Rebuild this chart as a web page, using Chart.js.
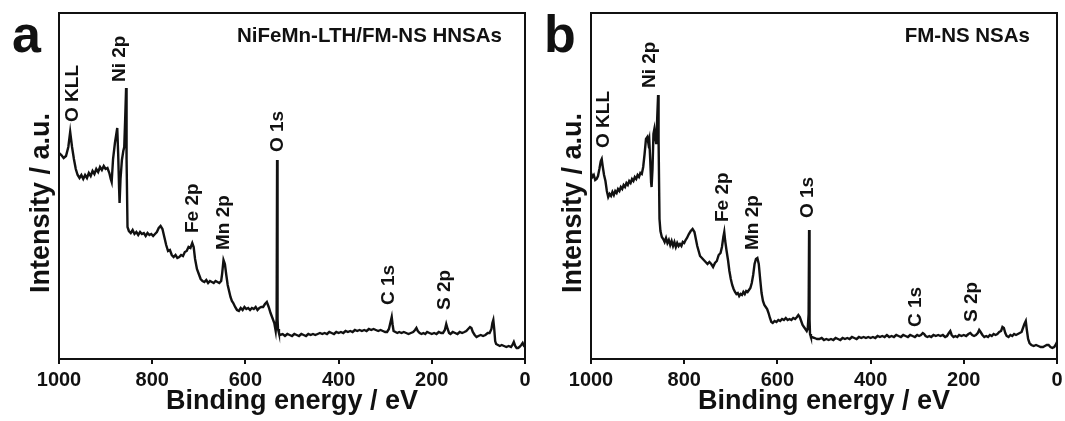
<!DOCTYPE html>
<html>
<head>
<meta charset="utf-8">
<title>XPS survey</title>
<script src="https://cdn.jsdelivr.net/npm/chart.js@4"></script>
<style>
  body { margin: 0; background: #fff; overflow: hidden; }
  #figura { position: relative; width: 1065px; height: 421px; }
  #figura canvas { position: absolute; top: 0; }
</style>
</head>
<body>
<div id="figura"></div>
<script>
// Espectro (a): NiFeMn-LTH/FM-NS HNSAs
const energiasA = [1000, 995, 990, 985, 980, 976, 972, 968, 964, 960, 956, 952, 948, 944, 940, 936, 932, 928, 924, 920,
  916, 912, 908, 904, 900, 896, 892, 889, 887, 884, 880, 877, 875, 873, 871, 870, 868, 865, 862, 860,
  858, 856, 855, 853, 850, 846, 842, 838, 834, 830, 826, 822, 818, 814, 810, 806, 802, 798, 794, 790,
  786, 782, 778, 774, 770, 766, 762, 758, 754, 750, 746, 742, 738, 734, 730, 726, 722, 718, 714, 711,
  708, 704, 700, 696, 692, 688, 684, 680, 676, 672, 668, 664, 660, 656, 652, 650, 647, 644, 641, 638,
  635, 632, 629, 626, 622, 618, 614, 610, 606, 602, 598, 594, 590, 586, 582, 578, 574, 570, 566, 562,
  558, 554, 550, 546, 542, 538, 535, 533, 532, 531, 530, 528, 526, 520, 515, 510, 505, 500, 495, 490,
  485, 480, 475, 470, 465, 460, 455, 450, 445, 440, 435, 430, 425, 420, 415, 410, 405, 400, 395, 390,
  385, 380, 375, 370, 365, 360, 355, 350, 345, 340, 335, 330, 325, 320, 315, 310, 305, 300, 296, 292,
  289, 286, 284, 282, 278, 274, 270, 265, 260, 255, 250, 245, 240, 236, 233, 230, 226, 222, 218, 214,
  210, 205, 200, 195, 190, 185, 180, 176, 172, 169, 166, 163, 160, 155, 150, 145, 140, 135, 130, 126,
  122, 118, 115, 112, 108, 104, 100, 95, 90, 85, 80, 76, 72, 70, 68, 66, 64, 62, 58, 54,
  50, 45, 40, 35, 30, 27, 24, 21, 18, 15, 12, 8, 5, 2, 0];
const intensidadesA = [206, 204, 201, 203, 212, 227, 212, 200, 190, 184, 181, 184, 180, 184, 181, 186, 183, 188, 185, 190,
  187, 192, 189, 193, 190, 191, 186, 180, 177, 200, 216, 225, 231, 205, 170, 156, 180, 199, 208, 212,
  240, 271, 200, 132, 128, 126, 129, 125, 127, 124, 127, 125, 126, 123, 126, 124, 125, 123, 125, 127,
  131, 133, 130, 122, 114, 108, 109, 104, 102, 104, 101, 102, 104, 103, 107, 108, 112, 111, 116, 112,
  100, 90, 85, 80, 78, 77, 79, 76, 78, 77, 76, 78, 77, 76, 78, 85, 99, 95, 84, 74,
  68, 62, 58, 56, 52, 49, 48, 51, 49, 52, 50, 51, 49, 51, 50, 52, 49, 51, 52, 52,
  55, 57, 52, 46, 41, 36, 28, 40, 199, 40, 30, 26, 24, 25, 23, 25, 24, 23, 25, 24,
  23, 25, 24, 23, 25, 24, 25, 24, 25, 26, 25, 26, 25, 27, 26, 25, 27, 26, 27, 26,
  28, 27, 28, 27, 29, 28, 29, 28, 29, 28, 30, 29, 30, 29, 28, 29, 28, 27, 27, 30,
  36, 42, 34, 28, 27, 26, 27, 26, 27, 26, 25, 26, 27, 29, 31, 28, 26, 25, 26, 25,
  27, 26, 25, 26, 25, 27, 26, 26, 29, 35, 30, 26, 25, 27, 26, 25, 27, 26, 27, 28,
  30, 32, 31, 27, 24, 22, 23, 24, 23, 24, 26, 26, 30, 36, 39, 30, 18, 15, 14, 13,
  14, 13, 12, 13, 12, 14, 17, 13, 11, 11, 12, 14, 16, 13, 12];

// Espectro (b): FM-NS NSAs
const energiasB = [1000, 997, 994, 991, 988, 985, 982, 979, 977, 975, 972, 969, 966, 963, 960, 957, 954, 951, 948, 945,
  942, 939, 936, 933, 930, 927, 924, 921, 918, 915, 912, 909, 906, 903, 900, 897, 894, 891, 888, 885,
  882, 879, 877, 875, 873, 871, 870, 868, 866, 864, 862, 860, 858, 856, 855, 853, 851, 848, 845, 842,
  839, 836, 833, 830, 827, 824, 821, 818, 815, 812, 809, 806, 803, 800, 797, 794, 790, 786, 782, 778,
  775, 772, 769, 766, 762, 758, 754, 750, 746, 742, 738, 734, 730, 726, 722, 719, 716, 714, 712, 709,
  706, 703, 700, 697, 694, 691, 688, 685, 682, 679, 676, 673, 670, 667, 664, 661, 658, 655, 652, 649,
  646, 643, 640, 637, 634, 631, 628, 625, 622, 619, 616, 613, 610, 606, 602, 598, 594, 590, 586, 582,
  578, 574, 570, 566, 562, 558, 555, 552, 549, 546, 543, 540, 537, 535, 533, 532, 531, 530, 528, 526,
  520, 515, 510, 505, 500, 495, 490, 485, 480, 475, 470, 465, 460, 455, 450, 445, 440, 435, 430, 425,
  420, 415, 410, 405, 400, 395, 390, 385, 380, 375, 370, 365, 360, 355, 350, 345, 340, 335, 330, 325,
  320, 315, 310, 305, 300, 296, 292, 288, 285, 282, 278, 274, 270, 265, 260, 255, 250, 245, 240, 236,
  232, 229, 226, 222, 218, 214, 210, 205, 200, 195, 190, 186, 182, 178, 174, 170, 167, 164, 160, 156,
  152, 148, 144, 140, 136, 132, 128, 124, 120, 117, 114, 111, 108, 104, 100, 96, 92, 88, 84, 80,
  76, 73, 70, 67, 65, 62, 59, 55, 50, 45, 40, 35, 30, 26, 22, 18, 14, 10, 6, 3,
  1, 0];
const intensidadesB = [186, 182, 184, 179, 180, 183, 190, 198, 200, 193, 184, 178, 168, 162, 165, 163, 167, 164, 168, 166,
  170, 168, 172, 170, 174, 172, 176, 174, 178, 176, 180, 178, 182, 180, 184, 182, 186, 185, 192, 205,
  220, 222, 216, 220, 200, 176, 172, 190, 225, 230, 222, 215, 240, 264, 220, 140, 128, 122, 120, 117,
  121, 116, 119, 114, 118, 113, 117, 112, 116, 113, 115, 113, 117, 116, 119, 121, 125, 128, 130, 127,
  120, 113, 108, 103, 101, 99, 97, 95, 97, 95, 92, 96, 98, 104, 106, 112, 122, 127, 118, 108,
  99, 88, 80, 74, 70, 67, 65, 66, 63, 65, 64, 67, 65, 68, 67, 69, 71, 76, 84, 95,
  100, 101, 95, 80, 66, 58, 54, 52, 50, 46, 41, 37, 36, 38, 37, 39, 38, 40, 39, 41,
  39, 40, 39, 41, 40, 42, 44, 42, 38, 34, 32, 30, 28, 30, 45, 129, 40, 25, 22, 22,
  21, 20, 20, 21, 19, 20, 19, 20, 19, 21, 20, 19, 21, 20, 21, 20, 22, 21, 20, 22,
  21, 22, 21, 22, 21, 22, 21, 23, 22, 23, 22, 24, 22, 23, 22, 24, 23, 22, 24, 23,
  22, 24, 23, 22, 24, 23, 24, 26, 25, 23, 22, 23, 22, 24, 23, 24, 23, 24, 22, 23,
  26, 28, 24, 22, 23, 22, 24, 23, 24, 23, 25, 26, 24, 23, 24, 26, 29, 27, 24, 22,
  23, 22, 24, 23, 25, 24, 25, 27, 28, 32, 31, 26, 23, 22, 24, 23, 25, 24, 25, 26,
  27, 31, 35, 38, 30, 20, 16, 14, 13, 14, 13, 12, 12, 13, 14, 14, 12, 11, 12, 14,
  16, 17];

// Etiquetas de los picos: energía y altura donde empieza el texto
const picos = ['O KLL', 'Ni 2p', 'Fe 2p', 'Mn 2p', 'O 1s', 'C 1s', 'S 2p'];
const picosEnergiaA = [970, 870, 712, 647, 530, 292, 173];
const picosAlturaA = [237, 277, 126, 109, 207, 54, 49];
const picosEnergiaB = [973, 873, 717, 652, 534, 303, 182];
const picosAlturaB = [211, 271, 137, 109, 141, 32, 37];

const ticksX = [0, 200, 400, 600, 800, 1000];

const FUENTE = '"Liberation Sans", Arial, sans-serif';
Chart.defaults.font.family = FUENTE;
Chart.defaults.color = '#111';

// marco, letra del panel, nombre de la muestra y etiquetas de los picos
const anotaciones = {
  id: 'anotaciones',
  afterDatasetsDraw(chart, args, opts) {
    const { ctx, chartArea: a, scales: { x, y } } = chart;
    ctx.save();
    ctx.strokeStyle = '#111';
    ctx.lineWidth = 2;
    ctx.strokeRect(a.left, a.top, a.right - a.left, a.bottom - a.top);

    ctx.fillStyle = '#111';
    ctx.font = 'bold 19px ' + FUENTE;
    ctx.textAlign = 'left';
    ctx.textBaseline = 'middle';
    opts.energias.forEach((e, i) => {
      ctx.save();
      ctx.translate(x.getPixelForValue(e), y.getPixelForValue(opts.alturas[i]));
      ctx.rotate(-Math.PI / 2);
      ctx.fillText(picos[i], 0, 0);
      ctx.restore();
    });

    ctx.font = 'bold 20.5px ' + FUENTE;
    ctx.textAlign = 'right';
    ctx.textBaseline = 'alphabetic';
    ctx.fillText(opts.muestra, opts.muestraX, 42);

    ctx.save();
    ctx.font = 'bold 27px ' + FUENTE;
    ctx.textAlign = 'center';
    ctx.textBaseline = 'middle';
    ctx.translate(42, 203);
    ctx.rotate(-Math.PI / 2);
    ctx.fillText('Intensity / a.u.', 0, 0);
    ctx.restore();

    ctx.font = 'bold 52px ' + FUENTE;
    ctx.textAlign = 'left';
    ctx.fillText(opts.letra, 12, 52);
    ctx.restore();
  }
};

function crearPanel(izquierda, ancho, letra, muestra, muestraX, energias, intensidades, picosE, picosH) {
  const canvas = document.createElement('canvas');
  canvas.width = ancho;
  canvas.height = 421;
  canvas.style.left = izquierda + 'px';
  document.getElementById('figura').appendChild(canvas);

  const puntos = energias.map((e, i) => ({ x: e, y: intensidades[i] }));

  return new Chart(canvas.getContext('2d'), {
    type: 'line',
    data: {
      datasets: [{
        data: puntos,
        borderColor: '#111',
        borderWidth: 2.4,
        pointRadius: 0,
        tension: 0
      }]
    },
    options: {
      responsive: false,
      animation: false,
      layout: { padding: { left: 59, right: ancho - 59 - 466, top: 13, bottom: 0 } },
      plugins: {
        legend: { display: false },
        tooltip: { enabled: false },
        anotaciones: { letra, muestra, muestraX, energias: picosE, alturas: picosH }
      },
      scales: {
        x: {
          type: 'linear',
          reverse: true,
          min: 0,
          max: 1000,
          afterFit(scale) {
            scale.height = 62;
            scale.paddingLeft = 0;
            scale.paddingRight = 0;
          },
          border: { display: false },
          grid: { drawOnChartArea: false, drawTicks: true, tickLength: 5, color: '#111', lineWidth: 2 },
          ticks: {
            stepSize: 100,
            padding: 4,
            maxRotation: 0,
            font: { size: 20, weight: 'bold' },
            callback: v => (ticksX.includes(v) ? String(v) : '')
          },
          title: {
            display: true,
            text: 'Binding energy / eV',
            font: { size: 27, weight: 'bold' },
            padding: { top: 0, bottom: 3 }
          }
        },
        y: { display: false, min: 0, max: 346 }
      }
    },
    plugins: [anotaciones]
  });
}

crearPanel(0, 532, 'a', 'NiFeMn-LTH/FM-NS HNSAs', 502, energiasA, intensidadesA, picosEnergiaA, picosAlturaA);
crearPanel(532, 533, 'b', 'FM-NS NSAs', 498, energiasB, intensidadesB, picosEnergiaB, picosAlturaB);
</script>
</body>
</html>
